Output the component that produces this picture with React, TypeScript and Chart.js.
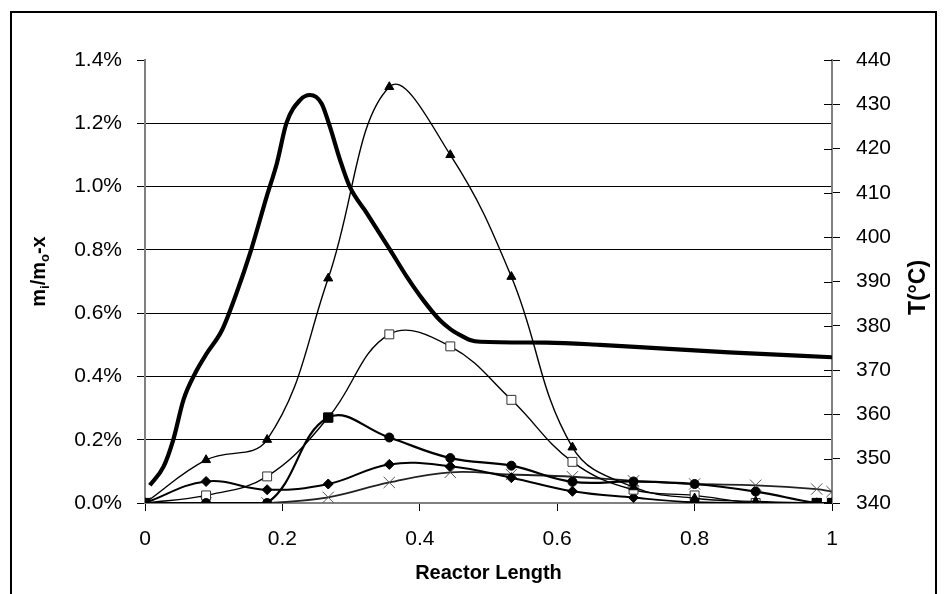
import React, { useEffect, useRef } from "react";
import { Chart, registerables } from "chart.js";

Chart.register(...registerables);

// ---- data ----
const positions = [0, 0.0889, 0.1778, 0.2667, 0.3556, 0.4444, 0.5333, 0.6222, 0.7111, 0.8, 0.8889, 0.9778, 1.0];
const circleSeries = [0, 0, 0, 0.27, 0.207, 0.142, 0.118, 0.067, 0.068, 0.06, 0.036, 0, 0];
const triangleSeries = [0, 0.136, 0.2, 0.71, 1.315, 1.1, 0.715, 0.176, 0.05, 0.015, 0.005, 0, 0];
const openSquareSeries = [0, 0.024, 0.084, 0.27, 0.533, 0.495, 0.326, 0.13, 0.042, 0.024, 0, 0, 0];
const diamondSeries = [0, 0.068, 0.042, 0.06, 0.122, 0.116, 0.08, 0.037, 0.017, 0.002, 0, 0, 0];
const crossSeries = [0, 0, 0, 0.018, 0.065, 0.097, 0.09, 0.083, 0.07, 0.06, 0.056, 0.044, 0.036];

const tempPositions = [0.007, 0.027, 0.041, 0.056, 0.073, 0.09, 0.112, 0.133, 0.153, 0.177, 0.192, 0.206, 0.226, 0.24, 0.257, 0.269, 0.284, 0.298, 0.323, 0.357, 0.381, 0.405, 0.429, 0.445, 0.46, 0.473, 0.488, 0.585, 0.662, 0.75, 0.85, 1.0];
const tempValues = [344, 348.2, 354.2, 363.3, 369.3, 373.8, 379, 387.3, 396.4, 409.1, 416.7, 425.8, 431, 432.1, 430.2, 425, 417.4, 411.4, 405.4, 397.1, 391.1, 385.8, 381.3, 379.2, 377.8, 376.8, 376.4, 376.2, 375.7, 374.9, 374.0, 372.9];

const xTickValues = [0, 0.2, 0.4, 0.6, 0.8, 1];
const leftMin = 0, leftMax = 1.4, leftStep = 0.2;
const rightMin = 340, rightMax = 440, rightStep = 10;

const xTitle = "Reactor Length";
// left title pieces: [text, isSubscript]
const leftTitleParts: [string, boolean][] = [["m", false], ["i", true], ["/m", false], ["o", true], ["-x", false]];
const rightTitle = "T(\u00B0C)";

const FONT = "'Liberation Sans', Arial, Helvetica, sans-serif";

const pts = (xs: number[], ys: number[]) => xs.map((x, i) => ({ x, y: ys[i] }));

const extras = {
  id: "extras",
  afterDraw(chart: any) {
    const s = chart.scales.y1;
    const ctx = chart.ctx;
    ctx.save();
    // inner half of the right axis tick marks
    ctx.strokeStyle = "#000";
    ctx.lineWidth = 1;
    s.ticks.forEach((t: any) => {
      const y = Math.round(s.getPixelForValue(t.value)) + 0.5;
      ctx.beginPath();
      ctx.moveTo(s.left - 8, y);
      ctx.lineTo(s.left, y);
      ctx.stroke();
    });
    // left title with subscripts, rotated
    const area = chart.chartArea;
    const big = "bold 20px " + FONT;
    const small = "bold 13px " + FONT;
    ctx.fillStyle = "#000";
    ctx.textBaseline = "alphabetic";
    ctx.textAlign = "left";
    let total = 0;
    leftTitleParts.forEach(([txt, sub]) => {
      ctx.font = sub ? small : big;
      total += ctx.measureText(txt).width;
    });
    ctx.save();
    ctx.translate(45, (area.top + area.bottom) / 2 - 10);
    ctx.rotate(-Math.PI / 2);
    let x = -total / 2;
    leftTitleParts.forEach(([txt, sub]) => {
      ctx.font = sub ? small : big;
      ctx.fillText(txt, x, sub ? 4 : 0);
      x += ctx.measureText(txt).width;
    });
    ctx.restore();
    // right title, reading bottom-to-top
    ctx.save();
    ctx.font = "bold 23px " + FONT;
    ctx.textAlign = "center";
    ctx.textBaseline = "middle";
    ctx.translate(919, (area.top + area.bottom) / 2 + 6);
    ctx.rotate(-Math.PI / 2);
    ctx.fillText(rightTitle, 0, 0);
    ctx.restore();
    ctx.restore();
  },
};

export default function App() {
  const ref = useRef<HTMLCanvasElement | null>(null);

  useEffect(() => {
    if (!ref.current) return;
    const circleStyles = positions.map((_, i) =>
      i === 0 || i === 3 || i >= positions.length - 2 ? "rect" : "circle"
    );
    const circleRadii = circleStyles.map((s) => (s === "rect" ? 6.5 : 4.5));
    const common = {
      borderColor: "#000",
      backgroundColor: "#000",
      pointBorderColor: "#000",
      tension: 0.4,
      yAxisID: "y",
      fill: false,
    };
    const chart = new Chart(ref.current, {
      type: "line",
      data: {
        datasets: [
          {
            ...common,
            label: "circle",
            data: pts(positions, circleSeries),
            borderWidth: 2.2,
            pointStyle: circleStyles as any,
            pointRadius: circleRadii,
            pointBackgroundColor: "#000",
            pointBorderWidth: 1,
          },
          {
            ...common,
            label: "triangle",
            data: pts(positions, triangleSeries),
            borderWidth: 1.4,
            pointStyle: "triangle",
            pointRadius: 5.2,
            pointBackgroundColor: "#000",
            pointBorderWidth: 1,
          },
          {
            ...common,
            label: "open square",
            data: pts(positions, openSquareSeries),
            borderWidth: 1.4,
            pointStyle: "rect",
            pointRadius: 6.3,
            pointBackgroundColor: "#fff",
            pointBorderColor: "#333",
            pointBorderWidth: 1,
          },
          {
            ...common,
            label: "diamond",
            data: pts(positions, diamondSeries),
            borderWidth: 2,
            pointStyle: "rectRot",
            pointRadius: 5,
            pointBackgroundColor: "#000",
            pointBorderWidth: 1,
          },
          {
            ...common,
            label: "cross",
            data: pts(positions, crossSeries),
            borderWidth: 1.8,
            borderColor: "#222",
            pointStyle: "crossRot",
            pointRadius: 8,
            pointBorderColor: "#555",
            pointBorderWidth: 1,
          },
          {
            label: "T",
            data: pts(tempPositions, tempValues),
            yAxisID: "y1",
            borderColor: "#000",
            borderWidth: 4.2,
            pointRadius: 0,
            cubicInterpolationMode: "monotone",
            fill: false,
          },
        ],
      },
      options: {
        responsive: false,
        animation: false,
        events: [],
        layout: { padding: { top: 60, left: 0, right: 0, bottom: 0 } },
        plugins: { legend: { display: false }, tooltip: { enabled: false } },
        scales: {
          x: {
            type: "linear",
            min: 0,
            max: 1,
            afterFit: (s: any) => { s.height = 91; },
            afterBuildTicks: (s: any) => { s.ticks = xTickValues.map((v) => ({ value: v })); },
            ticks: {
              color: "#000",
              font: { family: FONT, size: 21 },
              padding: 16,
              maxRotation: 0,
              callback: (v: any) => String(Number(Number(v).toFixed(1))),
            },
            grid: { drawOnChartArea: false, drawTicks: true, tickLength: 8, tickColor: "#000" },
            border: { display: true, color: "#808080", width: 2 },
            title: {
              display: true,
              text: xTitle,
              color: "#000",
              font: { family: FONT, size: 20, weight: "bold" },
              padding: { top: 0, bottom: 9 },
            },
          },
          y: {
            type: "linear",
            position: "left",
            min: leftMin,
            max: leftMax,
            afterFit: (s: any) => { s.width = 145; },
            ticks: {
              stepSize: leftStep,
              color: "#000",
              font: { family: FONT, size: 21 },
              padding: 15,
              callback: (v: any) => Number(v).toFixed(1) + "%",
            },
            grid: {
              drawTicks: true,
              tickLength: 8,
              tickColor: "#000",
              lineWidth: 1,
              color: (c: any) => {
                const v = c.tick ? c.tick.value : 0;
                return Math.abs(v) < 1e-6 || Math.abs(v - leftMax) < 1e-6 ? "rgba(0,0,0,0)" : "#000";
              },
            },
            border: { display: true, color: "#808080", width: 2 },
            title: { display: false },
          },
          y1: {
            type: "linear",
            position: "right",
            min: rightMin,
            max: rightMax,
            afterFit: (s: any) => { s.width = 115; },
            ticks: {
              stepSize: rightStep,
              color: "#000",
              font: { family: FONT, size: 21 },
              padding: 16,
            },
            grid: { drawOnChartArea: false, drawTicks: true, tickLength: 8, tickColor: "#000" },
            border: { display: true, color: "#808080", width: 2 },
            title: { display: false },
          },
        },
      },
      plugins: [extras],
    });
    return () => chart.destroy();
  }, []);

  return (
    <div style={{ position: "fixed", left: 0, top: 0, width: 947, height: 594, overflow: "hidden", background: "#fff" }}>
      <canvas ref={ref} width={947} height={594} style={{ position: "absolute", left: 0, top: 0, width: 947, height: 594 }} />
      <div
        style={{
          position: "absolute",
          left: 10,
          top: 11,
          width: 923,
          height: 620,
          borderTop: "2px solid #000",
          borderLeft: "2px solid #000",
          borderRight: "2px solid #000",
          pointerEvents: "none",
        }}
      />
    </div>
  );
}
